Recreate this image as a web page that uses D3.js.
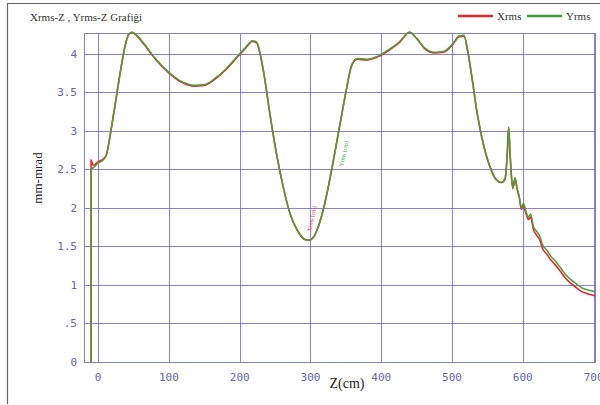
<!DOCTYPE html>
<html>
<head>
<meta charset="utf-8">
<script src="https://cdn.jsdelivr.net/npm/d3@7"></script>
<style>
  body { margin: 0; background: #fff; }
  svg { display: block; }
</style>
</head>
<body>
<script>
// z positions (cm)
var zVals = [-10, -10, -7, 0, 8, 12, 18, 25, 32, 38, 43, 48, 55, 65, 80, 100, 120, 135, 150, 165,
  180, 195, 208, 218, 224, 229, 235, 243, 252, 262, 272, 282, 292, 298, 305, 312, 320, 330, 340,
  350, 358, 366, 380, 395, 410, 425, 440, 450, 462, 475, 488, 500, 510, 517, 522, 528, 536, 545,
  555, 563, 570, 575, 578, 580, 582, 584, 586, 589, 592, 595, 598, 601, 604, 608, 611, 615, 620,
  624, 628, 634, 640, 645, 652, 660, 668, 675, 682, 690, 702]

var yrms = [0, 2.5, 2.52, 2.58, 2.63, 2.7, 3.0, 3.4, 3.8, 4.1, 4.25, 4.28, 4.24, 4.13, 3.95, 3.76,
  3.63, 3.59, 3.6, 3.68, 3.8, 3.95, 4.08, 4.17, 4.15, 4.0, 3.7, 3.2, 2.7, 2.25, 1.9, 1.7, 1.59, 1.58,
  1.63, 1.78, 2.05, 2.5, 3.0, 3.5, 3.85, 3.94, 3.93, 3.97, 4.05, 4.15, 4.28, 4.2, 4.07, 4.02, 4.03,
  4.12, 4.23, 4.24, 4.05, 3.7, 3.2, 2.8, 2.5, 2.36, 2.33, 2.38, 2.7, 3.05, 2.7, 2.4, 2.26, 2.39,
  2.25, 2.15, 2.0, 2.06, 1.97, 1.88, 1.92, 1.76, 1.69, 1.63, 1.52, 1.45, 1.37, 1.32, 1.24, 1.14,
  1.07, 1.02, 0.97, 0.94, 0.91]

var xrms = [0, 2.62, 2.55, 2.6, 2.64, 2.7, 3.0, 3.4, 3.8, 4.1, 4.25, 4.28, 4.23, 4.12, 3.94, 3.75,
  3.62, 3.58, 3.59, 3.67, 3.79, 3.94, 4.07, 4.16, 4.14, 3.99, 3.69, 3.2, 2.7, 2.25, 1.9, 1.7, 1.59,
  1.58, 1.63, 1.78, 2.05, 2.5, 3.0, 3.5, 3.84, 3.93, 3.92, 3.96, 4.04, 4.14, 4.28, 4.2, 4.06, 4.01,
  4.02, 4.11, 4.22, 4.23, 4.04, 3.7, 3.2, 2.8, 2.5, 2.36, 2.33, 2.38, 2.7, 3.04, 2.7, 2.4, 2.25,
  2.38, 2.24, 2.13, 1.98, 2.03, 1.94, 1.85, 1.88, 1.72, 1.64, 1.58, 1.47, 1.4, 1.32, 1.27, 1.19,
  1.09, 1.02, 0.97, 0.92, 0.89, 0.86]

var yTicks = [0, 0.5, 1, 1.5, 2, 2.5, 3, 3.5, 4]
var xTicks = [0, 100, 200, 300, 400, 500, 600, 700]

var W = 600, H = 405
var pLeft = 84, pRight = 595, pTop = 33, pBottom = 362
var gridCol = "#5a5ad0", tickCol = "#6464b0"

var svg = d3.select("body").append("svg").attr("width", W).attr("height", H)

// outer frame
svg.append("path").attr("d", "M7.5,404 V3.5 H600")
  .attr("fill", "none").attr("stroke", "#666").attr("stroke-width", 1.2)

var x = d3.scaleLinear().domain([-20, 702]).range([pLeft, pRight])
var y = d3.scaleLinear().domain([0, 4.27]).range([pBottom, pTop])

// grid
svg.append("g").selectAll("line").data(yTicks).enter().append("line")
  .attr("x1", pLeft).attr("x2", pRight)
  .attr("y1", function(d) { return Math.round(y(d)) + 0.5 })
  .attr("y2", function(d) { return Math.round(y(d)) + 0.5 })
  .attr("stroke", gridCol).attr("stroke-opacity", 0.75)

svg.append("g").selectAll("line").data(xTicks).enter().append("line")
  .attr("y1", pTop).attr("y2", pBottom)
  .attr("x1", function(d) { return Math.round(x(d)) + 0.5 })
  .attr("x2", function(d) { return Math.round(x(d)) + 0.5 })
  .attr("stroke", gridCol).attr("stroke-opacity", 0.75)

svg.append("rect").attr("x", pLeft + 0.5).attr("y", pTop + 0.5)
  .attr("width", pRight - pLeft).attr("height", pBottom - pTop)
  .attr("fill", "none").attr("stroke", "#8080c0")

// tick labels
svg.append("g").selectAll("text").data(yTicks).enter().append("text")
  .attr("x", 77).attr("y", function(d) { return y(d) + 4 })
  .attr("text-anchor", "end")
  .attr("font-family", "DejaVu Sans Mono").attr("font-size", 11)
  .attr("fill", tickCol)
  .text(function(d) { return d === 0.5 ? ".5" : String(d) })

svg.append("g").selectAll("text").data(xTicks).enter().append("text")
  .attr("x", function(d) { return x(d) }).attr("y", 381)
  .attr("text-anchor", "middle")
  .attr("font-family", "DejaVu Sans Mono").attr("font-size", 11)
  .attr("fill", tickCol)
  .text(function(d) { return d })

// axis titles
svg.append("text").attr("transform", "translate(42,178) rotate(-90)")
  .attr("text-anchor", "middle").attr("font-family", "Liberation Serif")
  .attr("font-size", 13).attr("fill", "#222").text("mm-mrad")

svg.append("text").attr("x", 347).attr("y", 388)
  .attr("text-anchor", "middle").attr("font-family", "Liberation Serif")
  .attr("font-size", 14).attr("fill", "#222").text("Z(cm)")

svg.append("text").attr("x", 30).attr("y", 21)
  .attr("font-family", "Liberation Serif").attr("font-size", 11)
  .attr("fill", "#333").text("Xrms-Z , Yrms-Z Grafiği")

// legend
var legend = [{ name: "Xrms", col: "#e8262c", x: 458 }, { name: "Yrms", col: "#3f9d3f", x: 527 }]
var lg = svg.append("g").selectAll("g").data(legend).enter().append("g")
lg.append("line").attr("x1", function(d) { return d.x }).attr("x2", function(d) { return d.x + 35 })
  .attr("y1", 16).attr("y2", 16).attr("stroke", function(d) { return d.col }).attr("stroke-width", 2.5)
lg.append("text").attr("x", function(d) { return d.x + 39 }).attr("y", 20)
  .attr("font-family", "Liberation Serif").attr("font-size", 11).attr("fill", "#333")
  .text(function(d) { return d.name })

// curves
var line = d3.line()
  .x(function(d) { return x(d[0]) })
  .y(function(d) { return y(d[1]) })
  .curve(d3.curveMonotoneX)

var plot = svg.append("g")
plot.append("path").datum(d3.zip(zVals, xrms)).attr("d", line)
  .attr("fill", "none").attr("stroke", "#e8262c").attr("stroke-width", 1.6)
plot.append("path").datum(d3.zip(zVals, yrms)).attr("d", line)
  .attr("fill", "none").attr("stroke", "#4f9b3a").attr("stroke-width", 1.6).attr("stroke-opacity", 0.95)

// small curve labels
svg.append("text").attr("transform", "translate(311,232) rotate(-78)")
  .attr("font-family", "Liberation Serif").attr("font-size", 6).attr("fill", "#e04050")
  .text("Xrms (cm)")
svg.append("text").attr("transform", "translate(343,167) rotate(-78)")
  .attr("font-family", "Liberation Serif").attr("font-size", 6).attr("fill", "#40a050")
  .text("Yrms (cm)")
</script>
</body>
</html>
